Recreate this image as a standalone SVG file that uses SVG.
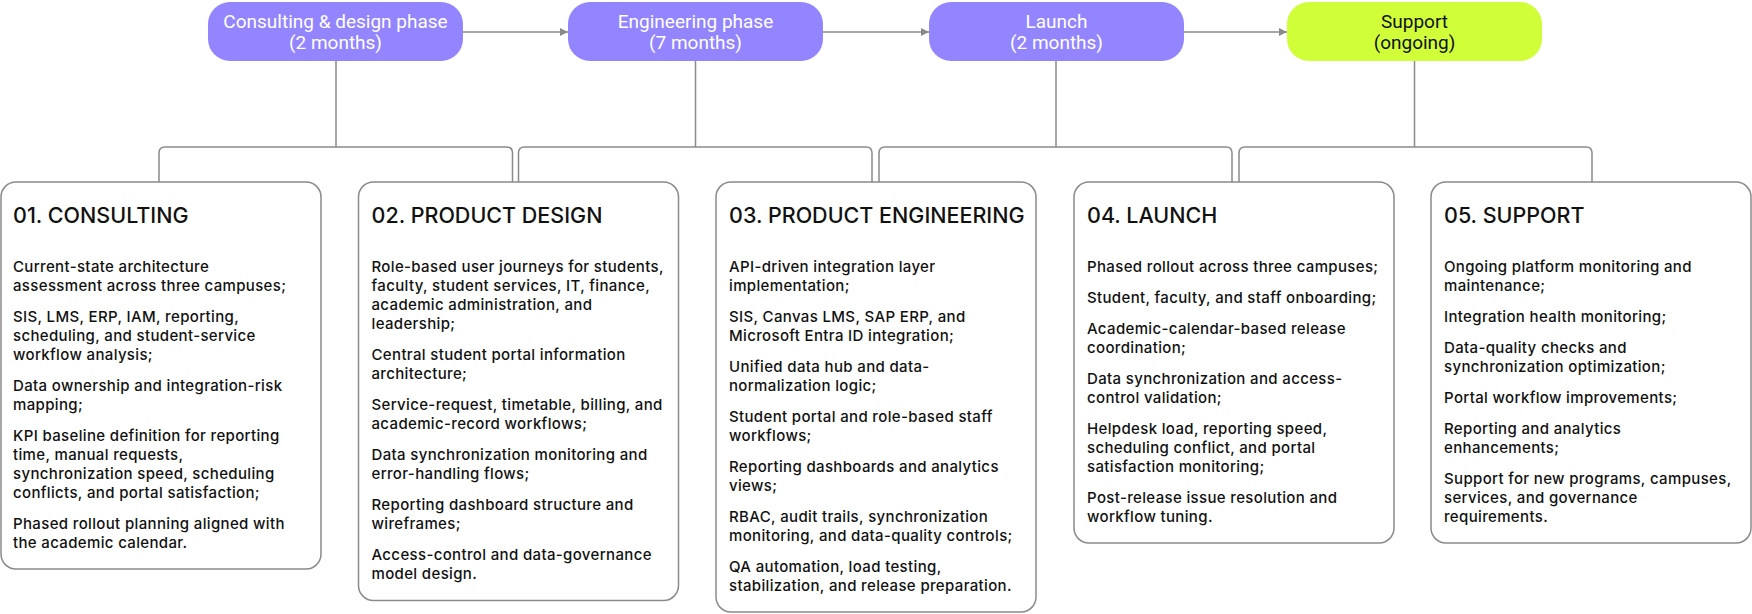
<svg xmlns="http://www.w3.org/2000/svg" width="1752" height="614" viewBox="0 0 1752 614">
<defs>
<marker id="arr" viewBox="0 0 10 10" refX="10" refY="5" markerWidth="8" markerHeight="8" markerUnits="userSpaceOnUse" orient="auto">
<path d="M0,0 L10,5 L0,10 z" fill="#8a8a8a"/>
</marker>
<style>
.pill{fill:#9385ff;}
.pill-lime{fill:#d0ff3a;}
.pt{font-family:Roboto,"Liberation Sans",sans-serif;font-size:19px;fill:#ffffff;text-anchor:middle;}
.pt-dark{fill:#111111;}
.card{fill:#ffffff;stroke:#8a8a8a;stroke-width:1.5;}
.ttl{font-family:Inter,"Liberation Sans",sans-serif;font-size:21.5px;font-weight:500;fill:#111111;}
.body{font-family:Inter,"Liberation Sans",sans-serif;font-size:15px;font-weight:500;letter-spacing:0.35px;fill:#111111;}
.conn{fill:none;stroke:#8a8a8a;stroke-width:1.5;}
</style>
</defs>
<rect width="1752" height="614" fill="#ffffff"/>

<g id="connectors">
<line class="conn" x1="463" y1="32" x2="568" y2="32" marker-end="url(#arr)"/>
<line class="conn" x1="823" y1="32" x2="929" y2="32" marker-end="url(#arr)"/>
<line class="conn" x1="1184" y1="32" x2="1287" y2="32" marker-end="url(#arr)"/>
<path class="conn" d="M336,61 V147"/>
<path class="conn" d="M695.5,61 V147"/>
<path class="conn" d="M1056,61 V147"/>
<path class="conn" d="M1414.5,61 V147"/>
<path class="conn" d="M159,182 V153 Q159,147 165,147 H506.5 Q512.5,147 512.5,153 V182"/>
<path class="conn" d="M518.5,182 V153 Q518.5,147 524.5,147 H866 Q872,147 872,153 V182"/>
<path class="conn" d="M879,182 V153 Q879,147 885,147 H1226 Q1232,147 1232,153 V182"/>
<path class="conn" d="M1239,182 V153 Q1239,147 1245,147 H1586 Q1592,147 1592,153 V182"/>
</g>

<g id="phase-consulting-design">
<rect class="pill" x="208" y="2" width="255" height="59" rx="22"/>
<text class="pt" x="335.5" y="28">Consulting &amp; design phase</text>
<text class="pt" x="335.5" y="49">(2 months)</text>
</g>
<g id="phase-engineering">
<rect class="pill" x="568" y="2" width="255" height="59" rx="22"/>
<text class="pt" x="695.5" y="28">Engineering phase</text>
<text class="pt" x="695.5" y="49">(7 months)</text>
</g>
<g id="phase-launch">
<rect class="pill" x="929" y="2" width="255" height="59" rx="22"/>
<text class="pt" x="1056.5" y="28">Launch</text>
<text class="pt" x="1056.5" y="49">(2 months)</text>
</g>
<g id="phase-support">
<rect class="pill-lime" x="1287" y="2" width="255" height="59" rx="22"/>
<text class="pt pt-dark" x="1414.5" y="28">Support</text>
<text class="pt pt-dark" x="1414.5" y="49">(ongoing)</text>
</g>

<g id="card-consulting">
<rect class="card" x="1" y="182" width="320" height="387" rx="15"/>
<text class="ttl" x="13" y="223">01. CONSULTING</text>
<text class="body" x="13">
<tspan x="13" y="271.7">Current-state architecture</tspan>
<tspan x="13" y="290.7">assessment across three campuses;</tspan>
<tspan x="13" y="321.7">SIS, LMS, ERP, IAM, reporting,</tspan>
<tspan x="13" y="340.7">scheduling, and student-service</tspan>
<tspan x="13" y="359.7">workflow analysis;</tspan>
<tspan x="13" y="390.7">Data ownership and integration-risk</tspan>
<tspan x="13" y="409.7">mapping;</tspan>
<tspan x="13" y="440.7">KPI baseline definition for reporting</tspan>
<tspan x="13" y="459.7">time, manual requests,</tspan>
<tspan x="13" y="478.7">synchronization speed, scheduling</tspan>
<tspan x="13" y="497.7">conflicts, and portal satisfaction;</tspan>
<tspan x="13" y="528.7">Phased rollout planning aligned with</tspan>
<tspan x="13" y="547.7">the academic calendar.</tspan>
</text>
</g>

<g id="card-product-design">
<rect class="card" x="358.5" y="182" width="320" height="418.5" rx="15"/>
<text class="ttl" x="371.5" y="223">02. PRODUCT DESIGN</text>
<text class="body">
<tspan x="371.5" y="271.7">Role-based user journeys for students,</tspan>
<tspan x="371.5" y="290.7">faculty, student services, IT, finance,</tspan>
<tspan x="371.5" y="309.7">academic administration, and</tspan>
<tspan x="371.5" y="328.7">leadership;</tspan>
<tspan x="371.5" y="359.7">Central student portal information</tspan>
<tspan x="371.5" y="378.7">architecture;</tspan>
<tspan x="371.5" y="409.7">Service-request, timetable, billing, and</tspan>
<tspan x="371.5" y="428.7">academic-record workflows;</tspan>
<tspan x="371.5" y="459.7">Data synchronization monitoring and</tspan>
<tspan x="371.5" y="478.7">error-handling flows;</tspan>
<tspan x="371.5" y="509.7">Reporting dashboard structure and</tspan>
<tspan x="371.5" y="528.7">wireframes;</tspan>
<tspan x="371.5" y="559.7">Access-control and data-governance</tspan>
<tspan x="371.5" y="578.7">model design.</tspan>
</text>
</g>

<g id="card-product-engineering">
<rect class="card" x="716" y="182" width="320" height="430" rx="15"/>
<text class="ttl" x="729" y="223">03. PRODUCT ENGINEERING</text>
<text class="body">
<tspan x="729" y="271.7">API-driven integration layer</tspan>
<tspan x="729" y="290.7">implementation;</tspan>
<tspan x="729" y="321.7">SIS, Canvas LMS, SAP ERP, and</tspan>
<tspan x="729" y="340.7">Microsoft Entra ID integration;</tspan>
<tspan x="729" y="371.7">Unified data hub and data-</tspan>
<tspan x="729" y="390.7">normalization logic;</tspan>
<tspan x="729" y="421.7">Student portal and role-based staff</tspan>
<tspan x="729" y="440.7">workflows;</tspan>
<tspan x="729" y="471.7">Reporting dashboards and analytics</tspan>
<tspan x="729" y="490.7">views;</tspan>
<tspan x="729" y="521.7">RBAC, audit trails, synchronization</tspan>
<tspan x="729" y="540.7">monitoring, and data-quality controls;</tspan>
<tspan x="729" y="571.7">QA automation, load testing,</tspan>
<tspan x="729" y="590.7">stabilization, and release preparation.</tspan>
</text>
</g>

<g id="card-launch">
<rect class="card" x="1074" y="182" width="320" height="361" rx="15"/>
<text class="ttl" x="1087" y="223">04. LAUNCH</text>
<text class="body">
<tspan x="1087" y="271.7">Phased rollout across three campuses;</tspan>
<tspan x="1087" y="302.7">Student, faculty, and staff onboarding;</tspan>
<tspan x="1087" y="333.7">Academic-calendar-based release</tspan>
<tspan x="1087" y="352.7">coordination;</tspan>
<tspan x="1087" y="383.7">Data synchronization and access-</tspan>
<tspan x="1087" y="402.7">control validation;</tspan>
<tspan x="1087" y="433.7">Helpdesk load, reporting speed,</tspan>
<tspan x="1087" y="452.7">scheduling conflict, and portal</tspan>
<tspan x="1087" y="471.7">satisfaction monitoring;</tspan>
<tspan x="1087" y="502.7">Post-release issue resolution and</tspan>
<tspan x="1087" y="521.7">workflow tuning.</tspan>
</text>
</g>

<g id="card-support">
<rect class="card" x="1431" y="182" width="320" height="361" rx="15"/>
<text class="ttl" x="1444" y="223">05. SUPPORT</text>
<text class="body">
<tspan x="1444" y="271.7">Ongoing platform monitoring and</tspan>
<tspan x="1444" y="290.7">maintenance;</tspan>
<tspan x="1444" y="321.7">Integration health monitoring;</tspan>
<tspan x="1444" y="352.7">Data-quality checks and</tspan>
<tspan x="1444" y="371.7">synchronization optimization;</tspan>
<tspan x="1444" y="402.7">Portal workflow improvements;</tspan>
<tspan x="1444" y="433.7">Reporting and analytics</tspan>
<tspan x="1444" y="452.7">enhancements;</tspan>
<tspan x="1444" y="483.7">Support for new programs, campuses,</tspan>
<tspan x="1444" y="502.7">services, and governance</tspan>
<tspan x="1444" y="521.7">requirements.</tspan>
</text>
</g>
</svg>
